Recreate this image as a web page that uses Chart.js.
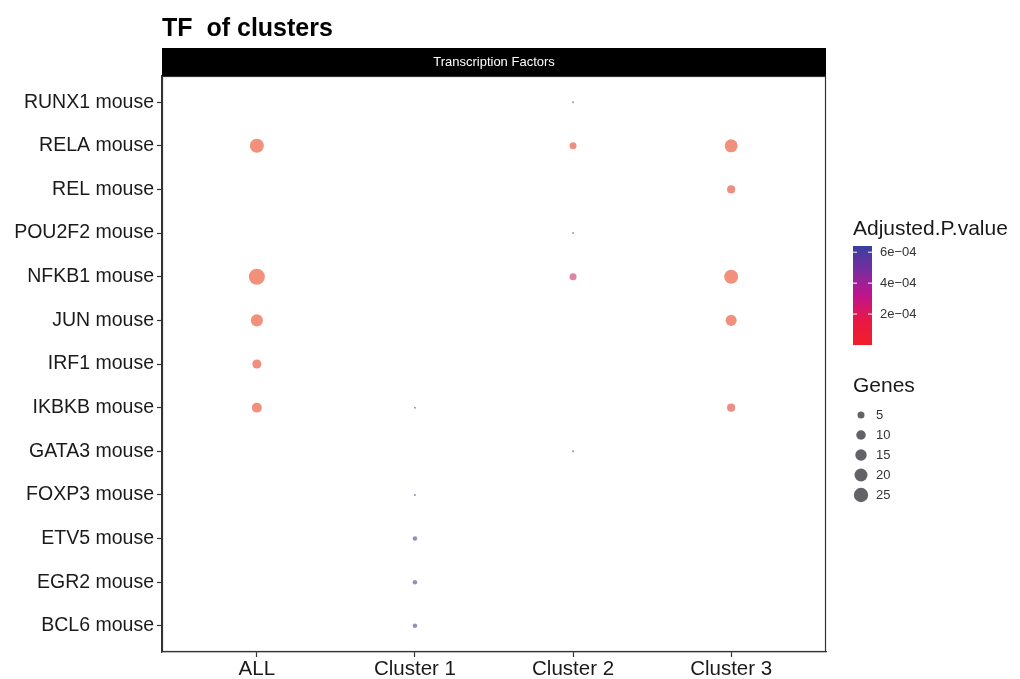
<!DOCTYPE html>
<html>
<head>
<meta charset="utf-8">
<title>TF of clusters</title>
<script src="https://cdn.jsdelivr.net/npm/chart.js@4.4.1/dist/chart.umd.min.js"></script>
<style>
  html, body { margin: 0; padding: 0; background: #ffffff; }
  #wrap { width: 1020px; height: 679px; position: relative; }
</style>
</head>
<body>
<div id="wrap"><canvas id="chart"></canvas></div>
<script>
// Columns (x) and transcription factors (y, listed bottom to top)
const categories = ['ALL', 'Cluster 1', 'Cluster 2', 'Cluster 3'];
const tfLabels = ['BCL6 mouse', 'EGR2 mouse', 'ETV5 mouse', 'FOXP3 mouse', 'GATA3 mouse',
  'IKBKB mouse', 'IRF1 mouse', 'JUN mouse', 'NFKB1 mouse', 'POU2F2 mouse',
  'REL mouse', 'RELA mouse', 'RUNX1 mouse'];

// Enriched TFs per column: overlapping genes and adjusted p-value
const allTF = ['RELA mouse', 'NFKB1 mouse', 'JUN mouse', 'IRF1 mouse', 'IKBKB mouse'];
const allGenes = [24, 32, 17, 9, 11];
const allPadj = [1e-9, 1e-12, 1e-7, 2e-5, 1e-5];

const cluster1TF = ['IKBKB mouse', 'FOXP3 mouse', 'ETV5 mouse', 'EGR2 mouse', 'BCL6 mouse'];
const cluster1Genes = [1, 1, 2, 2, 2];
const cluster1Padj = [6.4e-4, 6.4e-4, 6.2e-4, 6.2e-4, 6.2e-4];

const cluster2TF = ['RUNX1 mouse', 'RELA mouse', 'POU2F2 mouse', 'NFKB1 mouse', 'GATA3 mouse'];
const cluster2Genes = [1, 5, 1, 5, 1];
const cluster2Padj = [4.5e-4, 3e-5, 5e-4, 2.2e-4, 4.8e-4];

const cluster3TF = ['RELA mouse', 'REL mouse', 'NFKB1 mouse', 'JUN mouse', 'IKBKB mouse'];
const cluster3Genes = [20, 7, 24, 14, 7];
const cluster3Padj = [1e-6, 5e-5, 1e-8, 1e-5, 6e-5];

// Legend breaks
const pBreaks = [2e-4, 4e-4, 6e-4];
const pBreakLabels = ['2e\u221204', '4e\u221204', '6e\u221204'];
const geneBreaks = [5, 10, 15, 20, 25];

const columns = [
  { tf: allTF, genes: allGenes, padj: allPadj },
  { tf: cluster1TF, genes: cluster1Genes, padj: cluster1Padj },
  { tf: cluster2TF, genes: cluster2Genes, padj: cluster2Padj },
  { tf: cluster3TF, genes: cluster3Genes, padj: cluster3Padj }
];

const allGeneVals = [].concat(allGenes, cluster1Genes, cluster2Genes, cluster3Genes);
const allPVals = [].concat(allPadj, cluster1Padj, cluster2Padj, cluster3Padj);
const gMin = Math.min(...allGeneVals), gMax = Math.max(...allGeneVals);
const pMin = 0, pMax = Math.max(...allPVals);

// Area-proportional size scale
const R_MIN = 1, R_MAX = 8;
function radiusFor(g) {
  const t = Math.max(0, (g - gMin) / (gMax - gMin));
  return R_MIN + (R_MAX - R_MIN) * Math.sqrt(t);
}

// Colour scale: red (low p) -> magenta -> blue (high p)
const pointStops = [[232, 72, 36], [190, 40, 130], [70, 70, 150]];
function colorFor(p) {
  const t = Math.min(1, Math.max(0, (p - pMin) / (pMax - pMin)));
  let a, b, u;
  if (t < 0.5) { a = pointStops[0]; b = pointStops[1]; u = t / 0.5; }
  else { a = pointStops[1]; b = pointStops[2]; u = (t - 0.5) / 0.5; }
  const c = a.map((v, i) => Math.round(v + (b[i] - v) * u));
  return 'rgba(' + c[0] + ',' + c[1] + ',' + c[2] + ',0.6)';
}

const datasets = columns.map((col, ci) => ({
  label: categories[ci],
  data: col.tf.map(name => ({ x: ci + 1, y: tfLabels.indexOf(name) + 1 })),
  pointRadius: col.genes.map(radiusFor),
  pointHoverRadius: col.genes.map(radiusFor),
  backgroundColor: col.padj.map(colorFor),
  borderWidth: 0,
  pointBorderWidth: 0
}));

const FONT = "'Liberation Sans', Arial, sans-serif";

const decorations = {
  id: 'decorations',
  afterDraw(chart) {
    const ctx = chart.ctx;
    const a = chart.chartArea;
    ctx.save();

    // Panel border
    ctx.strokeStyle = '#333333';
    ctx.lineWidth = 1.2;
    ctx.strokeRect(a.left + 0.5, a.top + 0.5, a.right - a.left - 1, a.bottom - a.top - 1);

    // Facet strip
    ctx.fillStyle = '#000000';
    ctx.fillRect(a.left, 48, a.right - a.left, a.top - 48);
    ctx.fillStyle = '#ffffff';
    ctx.font = '13px ' + FONT;
    ctx.textAlign = 'center';
    ctx.textBaseline = 'middle';
    ctx.fillText('Transcription Factors', (a.left + a.right) / 2, 62);

    // Title
    ctx.fillStyle = '#000000';
    ctx.font = 'bold 25px ' + FONT;
    ctx.textAlign = 'left';
    ctx.textBaseline = 'alphabetic';
    ctx.fillText('TF  of clusters', 162, 36);

    // Colour legend
    const lx = 853;
    ctx.fillStyle = '#1a1a1a';
    ctx.font = '21px ' + FONT;
    ctx.textBaseline = 'middle';
    ctx.fillText('Adjusted.P.value', lx, 229);

    const barTop = 246, barBottom = 345, barW = 19;
    const grad = ctx.createLinearGradient(0, barBottom, 0, barTop);
    grad.addColorStop(0, '#F01E28');
    grad.addColorStop(0.25, '#E81846');
    grad.addColorStop(0.5, '#C0148C');
    grad.addColorStop(0.75, '#7A2C9E');
    grad.addColorStop(1, '#3840A0');
    ctx.fillStyle = grad;
    ctx.fillRect(lx, barTop, barW, barBottom - barTop);

    ctx.font = '13px ' + FONT;
    pBreaks.forEach((p, i) => {
      const y = barBottom - (p - pMin) / (pMax - pMin) * (barBottom - barTop);
      ctx.strokeStyle = '#ffffff';
      ctx.lineWidth = 1;
      ctx.beginPath();
      ctx.moveTo(lx, y); ctx.lineTo(lx + 4, y);
      ctx.moveTo(lx + barW - 4, y); ctx.lineTo(lx + barW, y);
      ctx.stroke();
      ctx.fillStyle = '#333333';
      ctx.fillText(pBreakLabels[i], 880, y);
    });

    // Size legend
    ctx.fillStyle = '#1a1a1a';
    ctx.font = '21px ' + FONT;
    ctx.fillText('Genes', lx, 386);
    ctx.font = '13px ' + FONT;
    geneBreaks.forEach((g, i) => {
      const y = 415 + i * 20;
      ctx.fillStyle = 'rgba(70,70,76,0.85)';
      ctx.beginPath();
      ctx.arc(861, y, radiusFor(g), 0, Math.PI * 2);
      ctx.fill();
      ctx.fillStyle = '#333333';
      ctx.fillText(String(g), 876, y);
    });

    ctx.restore();
  }
};

new Chart(document.getElementById('chart'), {
  type: 'scatter',
  data: { datasets },
  options: {
    responsive: true,
    maintainAspectRatio: false,
    animation: false,
    layout: { padding: { top: 76, right: 194, bottom: 0, left: 0 } },
    plugins: { legend: { display: false }, tooltip: { enabled: false } },
    scales: {
      x: {
        type: 'linear',
        min: 0.4,
        max: 4.6,
        afterBuildTicks: s => { s.ticks = categories.map((c, i) => ({ value: i + 1 })); },
        afterFit: s => { s.height = 27; },
        ticks: {
          callback: v => categories[v - 1],
          font: { family: FONT, size: 20.5 },
          color: '#1a1a1a',
          padding: 0,
          maxRotation: 0,
          autoSkip: false
        },
        grid: { drawOnChartArea: false, drawTicks: true, tickLength: 5, tickColor: '#333333', tickWidth: 1.2 },
        border: { display: true, color: '#333333', width: 1.2 }
      },
      y: {
        type: 'linear',
        min: 0.4,
        max: 13.6,
        afterBuildTicks: s => { s.ticks = tfLabels.map((t, i) => ({ value: i + 1 })); },
        afterFit: s => { s.width = 162; },
        ticks: {
          callback: v => tfLabels[v - 1],
          font: { family: FONT, size: 19.5 },
          color: '#1a1a1a',
          padding: 3,
          autoSkip: false
        },
        grid: { drawOnChartArea: false, drawTicks: true, tickLength: 5, tickColor: '#333333', tickWidth: 1.2 },
        border: { display: true, color: '#333333', width: 1.2 }
      }
    }
  },
  plugins: [decorations]
});
</script>
</body>
</html>
